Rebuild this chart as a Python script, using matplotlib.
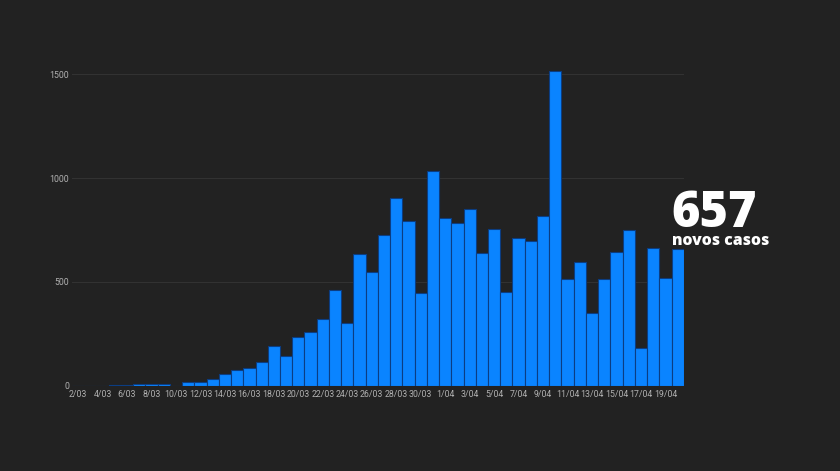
import matplotlib
matplotlib.use("Agg")
import matplotlib.pyplot as plt
import numpy as np

dates = [f"{d}/03" for d in range(2, 32)] + [f"{d}/04" for d in range(1, 21)]
new_cases = [2, 2, 1, 4, 4, 8, 9, 9, 2, 18, 19, 34, 57, 76, 86, 117, 194, 143,
             235, 260, 320, 460, 302, 633, 549, 724, 902, 792, 446, 1035,
             808, 783, 852, 638, 754, 452, 712, 699, 815, 1516, 515, 598, 349,
             514, 643, 750, 181, 663, 521, 657]
y_ticks = [0, 500, 1000, 1500]
headline_value = "657"
headline_label = "novos casos"

bg = "#222222"
fig = plt.figure(figsize=(8.4, 4.71), dpi=100, facecolor=bg)
ax = fig.add_axes([0.0857, 0.1805, 0.7283, 0.7065], facecolor=bg)

x = np.arange(len(dates))
ax.bar(x, new_cases, width=1.0, color="#0a84ff", edgecolor="#0b3d82", linewidth=0.8, zorder=3)

ax.set_xlim(-0.5, len(dates) - 0.5)
ax.set_ylim(0, 1600)
ax.set_yticks(y_ticks)
ax.set_yticklabels([str(v) for v in y_ticks])
ax.set_xticks(x[::2])
ax.set_xticklabels(dates[::2])
ax.tick_params(axis="both", length=0, labelsize=6.3, labelcolor="#b0b0b0", pad=3)
ax.tick_params(axis="y", pad=2)
for lbl in ax.get_xticklabels() + ax.get_yticklabels():
    lbl.set_family(["Roboto", "DejaVu Sans"])
ax.grid(axis="y", color="#323232", linewidth=0.8, zorder=0)
for s in ax.spines.values():
    s.set_visible(False)

fig.text(0.799, 0.519, headline_value, color="white", fontsize=35, fontweight="heavy",
         family=["Open Sans", "DejaVu Sans"], ha="left", va="baseline")
fig.text(0.800, 0.480, headline_label, color="white", fontsize=11.3, fontweight="heavy",
         family=["Open Sans", "DejaVu Sans"], ha="left", va="baseline")

fig.savefig("out.png", dpi=100, facecolor=bg)
